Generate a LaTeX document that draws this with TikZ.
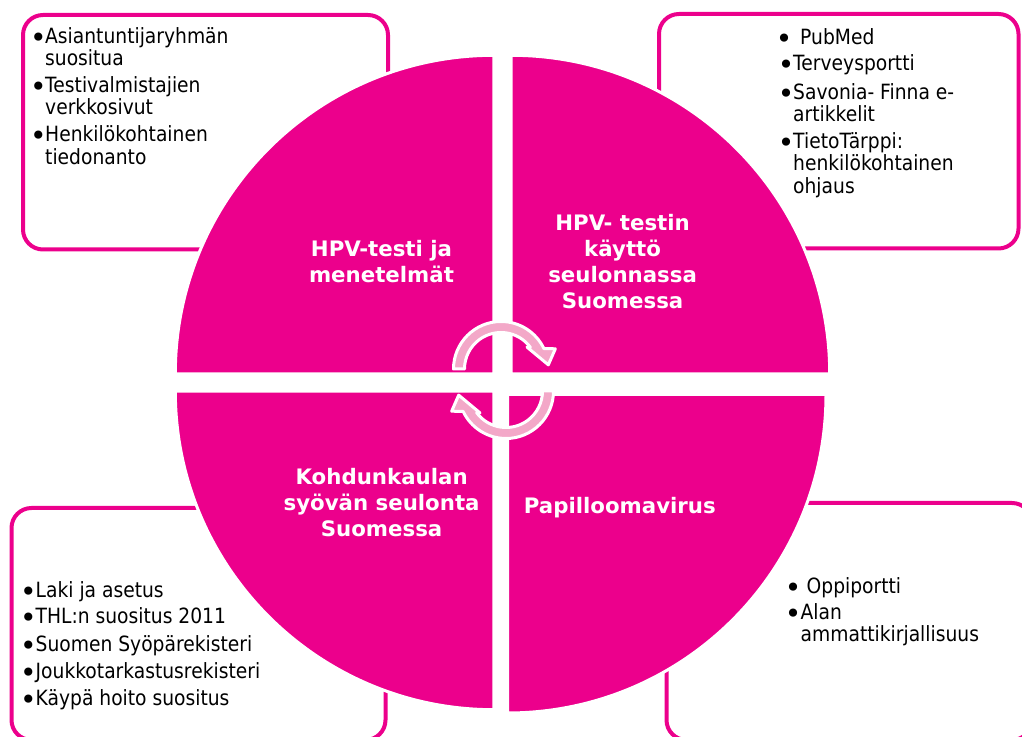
\documentclass[tikz,border=0pt]{standalone}
\usepackage{fontspec}
\setmainfont{DejaVu Sans}
\newfontfamily\bodyfont[FakeStretch=0.89]{DejaVu Sans}
\definecolor{hpvpink}{RGB}{236,0,140}
\definecolor{cyclepink}{RGB}{243,168,200}
% stacked lines sharing the first line's baseline
\newcommand\textlines[2]{\begin{tabular}[t]{@{}#1@{}}#2\end{tabular}}
% list bullet taking no horizontal room
\newcommand\listdot{\makebox[0pt][c]{•}}
\begin{document}
\begin{tikzpicture}[x=1pt,y=1pt,
  infobox/.style={draw=hpvpink, line width=4pt, rounded corners=20pt},
  quadrant/.style={fill=hpvpink, draw=white, line width=3pt},
  cyclearrow/.style={fill=cyclepink, draw=white, line width=3pt, line join=round},
  headtext/.style={text=white, inner sep=0pt, anchor=base, font=\fontsize{21.3}{26}\selectfont\bfseries},
  listtext/.style={inner sep=0pt, anchor=base west, font=\bodyfont\fontsize{21}{22}\selectfont},
  bulletmark/.style={inner sep=0pt, anchor=base, yshift=-4pt, font=\fontsize{28}{28}\selectfont}
]
\useasboundingbox (0,0) rectangle (1022,736);
\clip (0,0) rectangle (1022,736);

% source boxes behind the circle
\draw[infobox] (23,486.5) rectangle (388,721);
\draw[infobox] (659,487.5) rectangle (1018.5,722);
\draw[infobox] (11.5,-4) rectangle (385.5,228);
\draw[infobox] (666.5,-4) rectangle (1032,233);

% four quarter discs
\def\rad{318.5}
\draw[quadrant] (493.8,362.2) -- ++(-\rad,0) arc[start angle=180, end angle=90, radius=\rad] -- cycle;
\draw[quadrant] (511.2,362.2) -- ++(0,\rad) arc[start angle=90, end angle=0, radius=\rad] -- cycle;
\draw[quadrant] (493.8,344.8) -- ++(-\rad,0) arc[start angle=180, end angle=270, radius=\rad] -- cycle;
\draw[quadrant] (507.5,341.5) -- ++(\rad,0) arc[start angle=0, end angle=-90, radius=\rad] -- cycle;

% circular arrows in the middle
\def\cyclepath{(180:36.5) -- (180:47.5) arc[start angle=180, end angle=25.4, radius=47.5]
  -- (20.4:58) -- (5:47.5) -- (40:34) -- (36.5:36.5)
  arc[start angle=36.5, end angle=180, radius=36.5] -- cycle}
\begin{scope}[shift={(501,367)}]
  \draw[cyclearrow] \cyclepath;
\end{scope}
\begin{scope}[shift={(506,345)}, rotate=180]
  \draw[cyclearrow] \cyclepath;
\end{scope}

% quadrant titles
\node[headtext] (menetelmat) at (381.5,479.5) {\textlines{c}{HPV-testi ja\\menetelmät}};
\node[headtext] (kaytto) at (622.6,505.5) {\textlines{c}{HPV- testin\\käyttö\\seulonnassa\\Suomessa}};
\node[headtext] (seulonta) at (381.6,251) {\textlines{c}{Kohdunkaulan\\syövän seulonta\\Suomessa}};
\node[headtext] (papilloomavirus) at (619.8,222) {Papilloomavirus};

% top left list
\node[bulletmark] (tlb1) at (38.5,692.7) {\listdot};
\node[listtext] (tl1) at (45,692.7) {\textlines{l}{Asiantuntijaryhmän\\suositua}};
\node[bulletmark] (tlb2) at (38.5,643.7) {\listdot};
\node[listtext] (tl2) at (45,643.7) {\textlines{l}{Testivalmistajien\\verkkosivut}};
\node[bulletmark] (tlb3) at (38.5,594.3) {\listdot};
\node[listtext] (tl3) at (45,594.3) {\textlines{l}{Henkilökohtainen\\tiedonanto}};

% top right list
\node[bulletmark] (trb1) at (784,691.7) {\listdot};
\node[listtext] (tr1) at (800,691.7) {PubMed};
\node[bulletmark] (trb2) at (786,665) {\listdot};
\node[listtext] (tr2) at (793,665) {Terveysportti};
\node[bulletmark] (trb3) at (786,636.7) {\listdot};
\node[listtext] (tr3) at (793,636.7) {\textlines{l}{Savonia- Finna e-\\artikkelit}};
\node[bulletmark] (trb4) at (786,587.7) {\listdot};
\node[listtext] (tr4) at (793,587.7) {\textlines{l}{TietoTärppi:\\henkilökohtainen\\ohjaus}};

% bottom left list
\node[bulletmark] (blb1) at (28.5,138.7) {\listdot};
\node[listtext] (bl1) at (35.5,138.7) {Laki ja asetus};
\node[bulletmark] (blb2) at (28.5,112) {\listdot};
\node[listtext] (bl2) at (35.5,112) {THL:n suositus 2011};
\node[bulletmark] (blb3) at (28.5,84.3) {\listdot};
\node[listtext] (bl3) at (35.5,84.3) {Suomen Syöpärekisteri};
\node[bulletmark] (blb4) at (28.5,57.7) {\listdot};
\node[listtext] (bl4) at (35.5,57.7) {Joukkotarkastusrekisteri};
\node[bulletmark] (blb5) at (28.5,31) {\listdot};
\node[listtext] (bl5) at (35.5,31) {Käypä hoito suositus};

% bottom right list
\node[bulletmark] (brb1) at (793,142.7) {\listdot};
\node[listtext] (br1) at (806.5,142.7) {Oppiportti};
\node[bulletmark] (brb2) at (793,116.7) {\listdot};
\node[listtext] (br2) at (800.5,116.7) {\textlines{l}{Alan\\ammattikirjallisuus}};
\end{tikzpicture}
\end{document}
